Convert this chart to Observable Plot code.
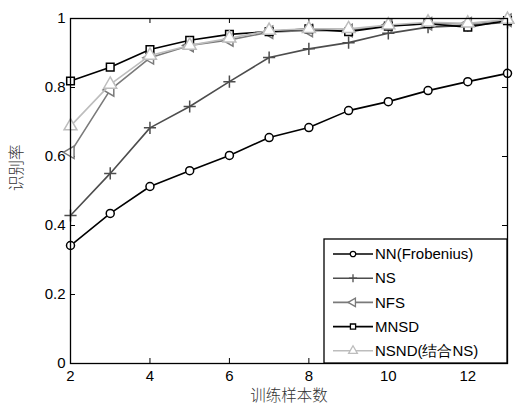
<!DOCTYPE html>
<html>
<head>
<meta charset="utf-8">
<script src="https://cdn.jsdelivr.net/npm/d3@7"></script>
<script src="https://cdn.jsdelivr.net/npm/@observablehq/plot@0.6"></script>
<style>
  html, body { margin: 0; padding: 0; background: #fff; }
</style>
</head>
<body>
<div id="chart"></div>
<script>
const xs = [2, 3, 4, 5, 6, 7, 8, 9, 10, 11, 12, 13];
const seriesNames = ["NN(Frobenius)", "NS", "NFS", "MNSD", "NSND(结合NS)"];
const nn   = [0.342, 0.435, 0.513, 0.559, 0.603, 0.655, 0.684, 0.733, 0.759, 0.791, 0.817, 0.841];
const ns   = [0.429, 0.551, 0.683, 0.745, 0.817, 0.887, 0.912, 0.930, 0.957, 0.975, 0.980, 0.989];
const nfs  = [0.612, 0.793, 0.886, 0.922, 0.938, 0.960, 0.965, 0.965, 0.980, 0.985, 0.985, 0.995];
const mnsd = [0.819, 0.859, 0.910, 0.937, 0.954, 0.962, 0.970, 0.962, 0.978, 0.985, 0.975, 0.994];
const nsnd = [0.688, 0.809, 0.893, 0.922, 0.943, 0.965, 0.970, 0.970, 0.981, 0.989, 0.986, 0.997];
const xTicks = [2, 4, 6, 8, 10, 12];
const yTicks = [0, 0.2, 0.4, 0.6, 0.8, 1];
const yTickLabels = ["0", "0.2", "0.4", "0.6", "0.8", "1"];
const xLabel = "训练样本数";
const yLabel = "识别率";

const triangleLeft = {
  draw(context, size) {
    const r = Math.sqrt(size * 4 / (3 * Math.sqrt(3)));
    context.moveTo(-r, 0);
    context.lineTo(r / 2, -r * Math.sqrt(3) / 2);
    context.lineTo(r / 2, r * Math.sqrt(3) / 2);
    context.closePath();
  }
};

const styles = [
  {stroke: "#000000", symbol: "circle", r: 4},
  {stroke: "#4d4d4d", symbol: "plus", r: 4},
  {stroke: "#7a7a7a", symbol: triangleLeft, r: 4.6},
  {stroke: "#000000", symbol: "square", r: 4.3},
  {stroke: "#bdbdbd", symbol: "triangle", r: 4.8}
];
const values = [nn, ns, nfs, mnsd, nsnd];

const data = [];
values.forEach((vals, i) => vals.forEach((v, j) => data.push({series: seriesNames[i], x: xs[j], y: v})));

const W = 515, H = 407;
const mL = 70, mR = 8, mT = 18, mB = 44;
const fw = W - mL - mR, fh = H - mT - mB;

const marks = [];
marks.push(Plot.gridX(xTicks, {stroke: "#000", strokeOpacity: 1, strokeWidth: 1, insetTop: fh - 5}));
marks.push(Plot.gridX(xTicks, {stroke: "#000", strokeOpacity: 1, strokeWidth: 1, insetBottom: fh - 5}));
marks.push(Plot.gridY(yTicks, {stroke: "#000", strokeOpacity: 1, strokeWidth: 1, insetRight: fw - 5}));
marks.push(Plot.gridY(yTicks, {stroke: "#000", strokeOpacity: 1, strokeWidth: 1, insetLeft: fw - 5}));
marks.push(Plot.axisX(xTicks, {tickSize: 0, tickPadding: 7, label: null, fontSize: 15}));
marks.push(Plot.axisY(yTicks, {tickSize: 0, tickPadding: 5, label: null, fontSize: 15,
  tickFormat: (d) => yTickLabels[yTicks.indexOf(d)]}));

seriesNames.forEach((name, i) => {
  const d = data.filter(e => e.series === name);
  const s = styles[i];
  marks.push(Plot.line(d, {x: "x", y: "y", stroke: s.stroke, strokeWidth: 1.6}));
  marks.push(Plot.dot(d, {x: "x", y: "y", stroke: s.stroke, fill: s.symbol === "plus" ? "none" : "white",
    symbol: s.symbol, r: s.r, strokeWidth: 1.5}));
});

marks.push(Plot.frame({stroke: "#000", strokeWidth: 1.3}));
marks.push(Plot.text([xLabel], {frameAnchor: "bottom", dy: 37, fontSize: 15.5,
  fontFamily: "Noto Sans CJK SC", fill: "#333", fontWeight: 300}));
marks.push(Plot.text([yLabel], {frameAnchor: "left", dx: -53, rotate: -90, fontSize: 15.5,
  fontFamily: "Noto Sans CJK SC", fill: "#333", fontWeight: 300}));

const chart = Plot.plot({
  width: W, height: H,
  marginLeft: mL, marginRight: mR, marginTop: mT, marginBottom: mB,
  x: {domain: [2, 13]},
  y: {domain: [0, 1]},
  style: {fontFamily: "Liberation Sans, Arial, sans-serif", fontSize: "15px", color: "#000", background: "#fff"},
  marks
});
document.getElementById("chart").appendChild(chart);

// Legend inside the plot area (lower right)
const svg = d3.select(chart);
const lg = svg.append("g").attr("font-family", "Liberation Sans, Arial, sans-serif")
  .attr("font-size", 15).attr("text-anchor", "start");
const lx0 = 324, ly0 = 239, lx1 = W - mR, ly1 = H - mB;
lg.append("rect").attr("x", lx0).attr("y", ly0).attr("width", lx1 - lx0).attr("height", ly1 - ly0)
  .attr("fill", "#fff").attr("stroke", "#000").attr("stroke-width", 1.3);
const symMap = {circle: d3.symbolCircle, plus: d3.symbolPlus, square: d3.symbolSquare, triangle: d3.symbolTriangle};
seriesNames.forEach((name, i) => {
  const s = styles[i];
  const y = 254 + i * 24.2;
  lg.append("line").attr("x1", 333).attr("x2", 373).attr("y1", y).attr("y2", y)
    .attr("stroke", s.stroke).attr("stroke-width", 1.6);
  const type = typeof s.symbol === "string" ? symMap[s.symbol] : s.symbol;
  const rr = s.r * 0.68;
  lg.append("path").attr("d", d3.symbol(type, Math.PI * rr * rr)())
    .attr("transform", `translate(353,${y})`)
    .attr("fill", s.symbol === "plus" ? "none" : "white").attr("stroke", s.stroke).attr("stroke-width", 1.3);
  lg.append("text").attr("x", 375).attr("y", y).attr("dy", "0.35em").attr("fill", "#000")
    .attr("text-anchor", "start").text(name);
});
</script>
</body>
</html>
